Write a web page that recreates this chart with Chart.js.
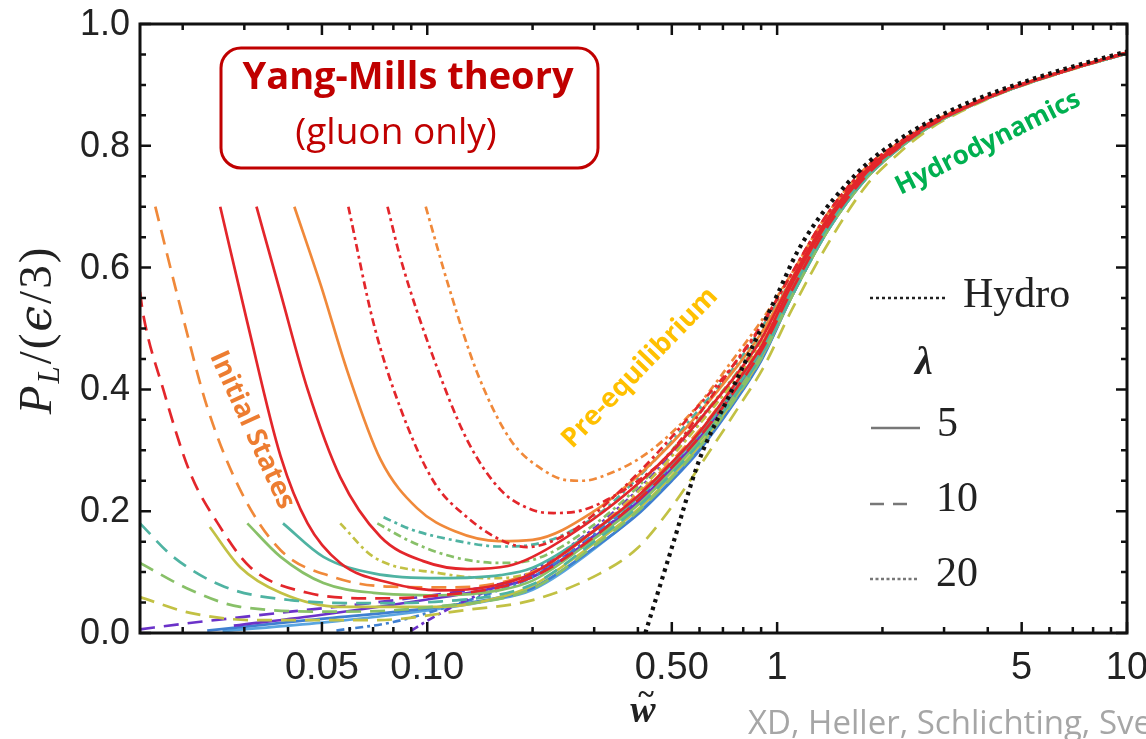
<!DOCTYPE html>
<html>
<head>
<meta charset="utf-8">
<script src="https://cdn.jsdelivr.net/npm/chart.js@4.4.0/dist/chart.umd.min.js"></script>
<style>
  html, body { margin: 0; background: #fff; }
  canvas { display: block; }
</style>
</head>
<body>
<canvas id="plot" width="1146" height="739" style="width:1146px;height:739px"></canvas>
<script>
// axis ticks
const xMajorTicks = [0.05, 0.1, 0.5, 1, 5, 10];
const xMajorLabels = ["0.05", "0.10", "0.50", "1", "5", "10"];
const xMinorTicks = [0.02, 0.03, 0.04, 0.06, 0.07, 0.08, 0.09, 0.2, 0.3, 0.4, 0.6, 0.7, 0.8, 0.9, 2, 3, 4, 6, 7, 8, 9];
const yMajorTicks = [0, 0.2, 0.4, 0.6, 0.8, 1.0];
const yMajorLabels = ["0.0", "0.2", "0.4", "0.6", "0.8", "1.0"];
const yMinorTicks = [0.05, 0.1, 0.15, 0.25, 0.3, 0.35, 0.45, 0.5, 0.55, 0.65, 0.7, 0.75, 0.85, 0.9, 0.95];

// first-order hydro
const hydro = [[0.42,0],[0.5,0.14],[0.6,0.285],[0.73,0.39],[0.85,0.47],[1.0,0.555],[1.14,0.625],[1.33,0.685],[1.58,0.737],[1.84,0.775],[2.2,0.808],[2.68,0.838],[3.3,0.864],[4.14,0.887],[6.44,0.924],[10,0.955]];

// lambda = 5 (solid)
const redS1 = [[0.0256,0.70],[0.0306,0.51],[0.0381,0.29],[0.0455,0.18],[0.0564,0.115],[0.0785,0.082],[0.109,0.07],[0.15,0.076],[0.2,0.098],[0.3,0.168],[0.4,0.225],[0.5,0.28],[0.6,0.33],[0.75,0.405],[0.9,0.47],[1.1,0.572],[1.4,0.676],[1.8,0.756],[2.2,0.797],[2.7,0.833],[3.4,0.861],[4.5,0.891],[6.5,0.921],[10,0.953]];
const redS2 = [[0.0325,0.70],[0.038,0.56],[0.0455,0.40],[0.0564,0.256],[0.0735,0.158],[0.0974,0.118],[0.13,0.105],[0.17,0.11],[0.2,0.125],[0.3,0.188],[0.4,0.245],[0.5,0.298],[0.6,0.35],[0.75,0.418],[0.9,0.482],[1.1,0.58],[1.4,0.682],[1.8,0.76],[2.2,0.8],[2.7,0.834],[3.4,0.862],[4.5,0.891],[6.5,0.922],[10,0.953]];
const orangeS = [[0.0417,0.70],[0.0497,0.57],[0.0591,0.43],[0.0735,0.285],[0.0935,0.205],[0.12,0.167],[0.16,0.151],[0.2,0.153],[0.3,0.2],[0.4,0.258],[0.5,0.312],[0.6,0.362],[0.75,0.43],[0.9,0.492],[1.1,0.58],[1.4,0.682],[1.8,0.76],[2.2,0.8],[2.7,0.834],[3.4,0.862],[4.5,0.891],[6.5,0.922],[10,0.953]];
const tealS = [[0.0387,0.18],[0.0505,0.125],[0.0702,0.098],[0.109,0.09],[0.162,0.095],[0.2,0.107],[0.3,0.168],[0.4,0.222],[0.5,0.277],[0.6,0.327],[0.75,0.397],[0.9,0.465],[1.1,0.562],[1.4,0.669],[1.8,0.751],[2.2,0.795],[2.7,0.831],[3.4,0.861],[4.5,0.89],[6.5,0.921],[10,0.952]];
const greenS = [[0.0306,0.18],[0.0381,0.125],[0.0505,0.082],[0.0702,0.066],[0.109,0.062],[0.16,0.07],[0.2,0.086],[0.3,0.155],[0.4,0.21],[0.5,0.265],[0.6,0.315],[0.75,0.388],[0.9,0.457],[1.1,0.562],[1.4,0.669],[1.8,0.751],[2.2,0.795],[2.7,0.831],[3.4,0.861],[4.5,0.89],[6.5,0.921],[10,0.952]];
const yellowS = [[0.0239,0.174],[0.0292,0.108],[0.0381,0.066],[0.0564,0.043],[0.109,0.043],[0.16,0.058],[0.2,0.078],[0.3,0.147],[0.4,0.203],[0.5,0.258],[0.6,0.308],[0.75,0.382],[0.9,0.452],[1.1,0.552],[1.4,0.662],[1.8,0.747],[2.2,0.793],[2.7,0.83],[3.4,0.86],[4.5,0.89],[6.5,0.921],[10,0.952]];
const blueS = [[0.0235,0.004],[0.0455,0.021],[0.109,0.043],[0.16,0.058],[0.2,0.074],[0.3,0.14],[0.4,0.195],[0.5,0.25],[0.6,0.3],[0.75,0.376],[0.9,0.447],[1.1,0.552],[1.4,0.662],[1.8,0.747],[2.2,0.793],[2.7,0.83],[3.4,0.86],[4.5,0.89],[6.5,0.921],[10,0.952]];
const skyS = [[0.026,0.003],[0.05,0.017],[0.1,0.037],[0.15,0.053],[0.2,0.071],[0.3,0.138],[0.4,0.197],[0.5,0.252],[0.6,0.303],[0.75,0.378],[0.9,0.448],[1.1,0.552],[1.4,0.662],[1.8,0.747],[2.2,0.793],[2.7,0.83],[3.4,0.86],[4.5,0.89],[6.5,0.921],[10,0.952]];
const purpleS = [[0.028,0.012],[0.05,0.03],[0.1,0.055],[0.15,0.072],[0.2,0.092],[0.3,0.158],[0.4,0.215],[0.5,0.27],[0.6,0.32],[0.75,0.392],[0.9,0.46],[1.1,0.562],[1.4,0.669],[1.8,0.751],[2.2,0.795],[2.7,0.831],[3.4,0.861],[4.5,0.89],[6.5,0.921],[10,0.952]];

// lambda = 10 (dashed)
const orangeD = [[0.0167,0.70],[0.0197,0.535],[0.0235,0.371],[0.0292,0.235],[0.0381,0.136],[0.0538,0.092],[0.0785,0.076],[0.12,0.075],[0.2,0.1],[0.3,0.168],[0.4,0.228],[0.5,0.283],[0.6,0.333],[0.75,0.405],[0.9,0.472],[1.1,0.572],[1.4,0.676],[1.8,0.756],[2.2,0.797],[2.7,0.833],[3.4,0.861],[4.5,0.891],[6.5,0.921],[10,0.953]];
const redD = [[0.0151,0.56],[0.0154,0.525],[0.0176,0.40],[0.021,0.263],[0.0252,0.18],[0.0312,0.108],[0.0455,0.066],[0.0702,0.057],[0.1,0.06],[0.2,0.092],[0.3,0.158],[0.4,0.218],[0.5,0.272],[0.6,0.322],[0.75,0.395],[0.9,0.463],[1.1,0.562],[1.4,0.669],[1.8,0.751],[2.2,0.795],[2.7,0.831],[3.4,0.861],[4.5,0.89],[6.5,0.921],[10,0.952]];
const tealD = [[0.0151,0.18],[0.0188,0.125],[0.0263,0.076],[0.0406,0.054],[0.0702,0.049],[0.11,0.052],[0.2,0.08],[0.3,0.15],[0.4,0.207],[0.5,0.262],[0.6,0.312],[0.75,0.386],[0.9,0.455],[1.1,0.552],[1.4,0.662],[1.8,0.747],[2.2,0.793],[2.7,0.83],[3.4,0.86],[4.5,0.89],[6.5,0.921],[10,0.952]];
const greenD = [[0.0151,0.115],[0.021,0.071],[0.0292,0.043],[0.0564,0.035],[0.1,0.042],[0.2,0.073],[0.3,0.143],[0.4,0.2],[0.5,0.255],[0.6,0.305],[0.75,0.38],[0.9,0.45],[1.1,0.552],[1.4,0.662],[1.8,0.747],[2.2,0.793],[2.7,0.83],[3.4,0.86],[4.5,0.89],[6.5,0.921],[10,0.952]];
const yellowD = [[0.0151,0.059],[0.021,0.033],[0.0327,0.021],[0.07,0.021],[0.13,0.038],[0.2,0.054],[0.312,0.098],[0.4,0.14],[0.485,0.197],[0.644,0.30],[0.784,0.375],[0.912,0.435],[1.1,0.53],[1.4,0.64],[1.8,0.735],[2.2,0.785],[2.7,0.826],[3.4,0.858],[4.5,0.889],[6.5,0.92],[10,0.952]];
const purpleD = [[0.0151,0.006],[0.02,0.015],[0.0406,0.035],[0.0837,0.055],[0.15,0.077],[0.2,0.096],[0.3,0.16],[0.4,0.217],[0.5,0.272],[0.6,0.322],[0.75,0.394],[0.9,0.462],[1.1,0.562],[1.4,0.669],[1.8,0.751],[2.2,0.795],[2.7,0.831],[3.4,0.861],[4.5,0.89],[6.5,0.921],[10,0.952]];

// lambda = 20 (dot-dashed)
const redDD1 = [[0.0595,0.70],[0.0702,0.509],[0.0837,0.37],[0.104,0.25],[0.13,0.19],[0.162,0.153],[0.193,0.141],[0.25,0.162],[0.3,0.195],[0.4,0.262],[0.5,0.322],[0.6,0.375],[0.75,0.44],[0.9,0.503],[1.1,0.59],[1.4,0.69],[1.8,0.765],[2.2,0.803],[2.7,0.836],[3.4,0.863],[4.5,0.892],[6.5,0.922],[10,0.953]];
const redDD2 = [[0.077,0.70],[0.0837,0.617],[0.104,0.453],[0.13,0.317],[0.162,0.235],[0.2,0.202],[0.23,0.197],[0.27,0.2],[0.312,0.213],[0.4,0.25],[0.485,0.29],[0.6,0.36],[0.75,0.44],[0.9,0.505],[1.1,0.59],[1.4,0.69],[1.8,0.765],[2.2,0.803],[2.7,0.836],[3.4,0.863],[4.5,0.892],[6.5,0.922],[10,0.953]];
const orangeDD = [[0.099,0.70],[0.116,0.563],[0.139,0.427],[0.173,0.317],[0.214,0.268],[0.25,0.251],[0.28,0.25],[0.312,0.256],[0.4,0.285],[0.485,0.322],[0.603,0.378],[0.75,0.45],[0.9,0.512],[1.1,0.59],[1.4,0.69],[1.8,0.765],[2.2,0.803],[2.7,0.836],[3.4,0.863],[4.5,0.892],[6.5,0.922],[10,0.953]];
const tealDD = [[0.075,0.19],[0.09,0.17],[0.12,0.152],[0.162,0.142],[0.2,0.145],[0.3,0.19],[0.4,0.255],[0.5,0.315],[0.6,0.368],[0.75,0.435],[0.9,0.5],[1.1,0.58],[1.4,0.682],[1.8,0.76],[2.2,0.8],[2.7,0.834],[3.4,0.862],[4.5,0.891],[6.5,0.922],[10,0.953]];
const greenDD = [[0.072,0.18],[0.0877,0.153],[0.109,0.131],[0.13,0.12],[0.16,0.115],[0.2,0.12],[0.3,0.178],[0.4,0.24],[0.5,0.3],[0.6,0.352],[0.75,0.42],[0.9,0.485],[1.1,0.58],[1.4,0.682],[1.8,0.76],[2.2,0.8],[2.7,0.834],[3.4,0.862],[4.5,0.891],[6.5,0.922],[10,0.953]];
const yellowDD = [[0.0564,0.18],[0.0702,0.125],[0.109,0.098],[0.15,0.09],[0.2,0.1],[0.3,0.168],[0.4,0.232],[0.5,0.29],[0.6,0.343],[0.75,0.412],[0.9,0.478],[1.1,0.572],[1.4,0.676],[1.8,0.756],[2.2,0.797],[2.7,0.833],[3.4,0.861],[4.5,0.891],[6.5,0.921],[10,0.953]];
const blueDD = [[0.055,0.004],[0.08,0.018],[0.11,0.04],[0.16,0.07],[0.2,0.092],[0.3,0.162],[0.4,0.222],[0.5,0.278],[0.6,0.33],[0.75,0.4],[0.9,0.468],[1.1,0.572],[1.4,0.676],[1.8,0.756],[2.2,0.797],[2.7,0.833],[3.4,0.861],[4.5,0.891],[6.5,0.921],[10,0.953]];
const purpleDD = [[0.09,0.004],[0.1,0.02],[0.12,0.045],[0.15,0.07],[0.2,0.102],[0.3,0.172],[0.4,0.235],[0.5,0.293],[0.6,0.345],[0.75,0.415],[0.9,0.48],[1.1,0.572],[1.4,0.676],[1.8,0.756],[2.2,0.797],[2.7,0.833],[3.4,0.861],[4.5,0.891],[6.5,0.921],[10,0.953]];

const RED = "#e3262b", ORANGE = "#f0893a", TEAL = "#4fb3a2", GREEN = "#88c068",
      YELLOW = "#c2c144", BLUE = "#3f7fd0", SKY = "#5aa5e0", PURPLE = "#6b32c9";
const SOLID = [], DASH = [15, 9], DOTDASH = [8, 4, 3, 4];

function line(points, color, dash, width) {
    return {
        data: points.map(p => ({ x: p[0], y: p[1] })),
        borderColor: color,
        borderDash: dash,
        borderWidth: width || 2.7,
        pointRadius: 0,
        fill: false,
        cubicInterpolationMode: "monotone",
    };
}

// first dataset is drawn on top
const datasets = [
    line(hydro, "#111", [3.5, 4.5], 4.2),
    line(redS1, RED, SOLID),
    line(redS2, RED, SOLID),
    line(redDD1, RED, DOTDASH),
    line(redDD2, RED, DOTDASH),
    line(redD, RED, DASH),
    line(orangeS, ORANGE, SOLID),
    line(orangeDD, ORANGE, DOTDASH),
    line(orangeD, ORANGE, DASH),
    line(tealS, TEAL, SOLID),
    line(tealDD, TEAL, DOTDASH),
    line(tealD, TEAL, DASH),
    line(greenS, GREEN, SOLID),
    line(greenDD, GREEN, DOTDASH),
    line(greenD, GREEN, DASH),
    line(yellowS, YELLOW, SOLID),
    line(yellowDD, YELLOW, DOTDASH),
    line(yellowD, YELLOW, DASH),
    line(purpleDD, PURPLE, DOTDASH),
    line(blueDD, BLUE, DOTDASH),
    line(purpleS, PURPLE, SOLID),
    line(purpleD, PURPLE, DASH),
    line(blueS, BLUE, SOLID),
    line(skyS, SKY, SOLID),
];

function rotatedText(ctx, text, cx, cy, angle, font, color) {
    ctx.save();
    ctx.translate(cx, cy);
    ctx.rotate(angle * Math.PI / 180);
    ctx.font = font;
    ctx.fillStyle = color;
    ctx.textAlign = "center";
    ctx.textBaseline = "middle";
    ctx.fillText(text, 0, 0);
    ctx.restore();
}

// frame, inward ticks, labels, legend and notes
const decorations = {
    id: "decorations",
    afterDraw(chart) {
        const { ctx, chartArea: a, scales: { x, y } } = chart;
        ctx.save();
        ctx.strokeStyle = "#111";
        ctx.lineWidth = 3;
        ctx.strokeRect(a.left, a.top, a.right - a.left, a.bottom - a.top);

        ctx.lineWidth = 2.5;
        ctx.beginPath();
        xMajorTicks.concat(xMinorTicks).forEach(v => {
            const px = x.getPixelForValue(v);
            const len = xMajorTicks.includes(v) ? 11 : 6;
            ctx.moveTo(px, a.bottom); ctx.lineTo(px, a.bottom - len);
            ctx.moveTo(px, a.top); ctx.lineTo(px, a.top + len);
        });
        yMajorTicks.concat(yMinorTicks).forEach(v => {
            const py = y.getPixelForValue(v);
            const len = yMajorTicks.includes(v) ? 11 : 6;
            ctx.moveTo(a.left, py); ctx.lineTo(a.left + len, py);
            ctx.moveTo(a.right, py); ctx.lineTo(a.right - len, py);
        });
        ctx.stroke();

        ctx.fillStyle = "#222";
        ctx.font = "38px 'Liberation Sans', Arial, sans-serif";
        ctx.textAlign = "center";
        ctx.textBaseline = "alphabetic";
        xMajorTicks.forEach((v, i) => {
            ctx.fillText(xMajorLabels[i], x.getPixelForValue(v), a.bottom + 46);
        });
        ctx.font = "36px 'Liberation Sans', Arial, sans-serif";
        ctx.textAlign = "right";
        ctx.textBaseline = "middle";
        yMajorTicks.forEach((v, i) => {
            ctx.fillText(yMajorLabels[i], a.left - 10, y.getPixelForValue(v) + 1);
        });

        // y title  P_L/(eps/3)
        ctx.save();
        ctx.translate(51, 330);
        ctx.rotate(-Math.PI / 2);
        ctx.textAlign = "left";
        ctx.textBaseline = "alphabetic";
        const parts = [
            ["P", "italic 47px 'Liberation Serif', serif", 0],
            ["L", "italic 31px 'Liberation Serif', serif", 8],
            ["/", "47px 'Liberation Serif', serif", 0],
            ["(", "47px 'Liberation Serif', serif", 0],
            ["\u03f5", "italic 46px 'DejaVu Serif', serif", 0],
            ["/", "47px 'Liberation Serif', serif", 0],
            ["3", "47px 'Liberation Serif', serif", 0],
            [")", "47px 'Liberation Serif', serif", 0],
        ];
        let total = 0;
        parts.forEach(p => { ctx.font = p[1]; total += ctx.measureText(p[0]).width + 2; });
        let cx = -total / 2;
        parts.forEach(p => {
            ctx.font = p[1];
            ctx.fillText(p[0], cx, p[2]);
            cx += ctx.measureText(p[0]).width + 2;
        });
        ctx.restore();

        // x title  w~
        ctx.font = "bold italic 38px 'Liberation Serif', serif";
        ctx.textAlign = "center";
        ctx.textBaseline = "alphabetic";
        ctx.fillText("w", 643, 722);
        ctx.font = "bold 30px 'Liberation Serif', serif";
        ctx.fillText("~", 646, 704);

        // legend
        ctx.font = "42px 'Liberation Serif', serif";
        ctx.textAlign = "left";
        ctx.fillStyle = "#222";
        ctx.fillText("Hydro", 963, 307);
        ctx.fillText("5", 937, 436);
        ctx.fillText("10", 936, 511);
        ctx.fillText("20", 936, 586);
        ctx.font = "bold italic 40px 'Liberation Serif', serif";
        ctx.fillText("\u03bb", 915, 374);

        ctx.lineWidth = 2.5;
        ctx.strokeStyle = "#222";
        ctx.setLineDash([3, 3]);
        ctx.beginPath(); ctx.moveTo(870, 298); ctx.lineTo(946, 298); ctx.stroke();
        ctx.strokeStyle = "#777";
        ctx.setLineDash([]);
        ctx.beginPath(); ctx.moveTo(871, 428); ctx.lineTo(920, 428); ctx.stroke();
        ctx.setLineDash([14, 9]);
        ctx.beginPath(); ctx.moveTo(870, 504); ctx.lineTo(908, 504); ctx.stroke();
        ctx.setLineDash([3, 2.5]);
        ctx.beginPath(); ctx.moveTo(870, 579); ctx.lineTo(917, 579); ctx.stroke();
        ctx.setLineDash([]);

        // boxed title
        ctx.strokeStyle = "#c00000";
        ctx.lineWidth = 3;
        ctx.beginPath();
        ctx.roundRect(221, 48, 377, 120, 20);
        ctx.stroke();
        ctx.fillStyle = "#c00000";
        ctx.textAlign = "center";
        ctx.textBaseline = "middle";
        ctx.font = "bold 38px 'Open Sans', sans-serif";
        ctx.fillText("Yang-Mills theory", 408, 78);
        ctx.font = "37px 'Open Sans', sans-serif";
        ctx.fillText("(gluon only)", 396, 133);

        rotatedText(ctx, "Initial States", 252, 430, 65.5, "bold 27px 'Open Sans', sans-serif", "#ed7d31");
        rotatedText(ctx, "Pre-equilibrium", 640, 368, -46, "bold 27px 'Open Sans', sans-serif", "#ffc000");
        rotatedText(ctx, "Hydrodynamics", 988, 143, -26.5, "bold 26px 'Open Sans', sans-serif", "#00b050");

        ctx.font = "33px 'Open Sans', sans-serif";
        ctx.fillStyle = "#a6a6a6";
        ctx.textAlign = "left";
        ctx.textBaseline = "alphabetic";
        ctx.fillText("XD, Heller, Schlichting, Sve", 748, 734);
        ctx.restore();
    }
};

new Chart(document.getElementById("plot"), {
    type: "line",
    data: { datasets },
    options: {
        responsive: false,
        animation: false,
        devicePixelRatio: 1,
        layout: { padding: { left: 140, right: 19, top: 24, bottom: 106 } },
        plugins: { legend: { display: false }, tooltip: { enabled: false } },
        scales: {
            x: { type: "logarithmic", min: 0.0151, max: 10, display: false },
            y: { type: "linear", min: 0, max: 1, display: false },
        },
    },
    plugins: [decorations],
});
</script>
</body>
</html>
